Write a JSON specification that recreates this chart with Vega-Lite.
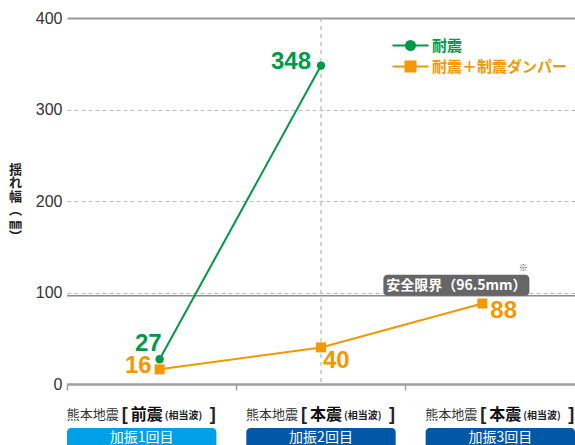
{
  "$schema": "https://vega.github.io/schema/vega-lite/v6.json",
  "width": 508,
  "height": 366,
  "autosize": {"type": "none"},
  "padding": {"left": 67, "top": 18, "right": 0, "bottom": 61},
  "background": "white",
  "config": {"view": {"stroke": null}, "font": "Noto Sans CJK JP"},
  "datasets": {
    "pts": [
      {"cat": "1", "series": "耐震", "value": 27},
      {"cat": "2", "series": "耐震", "value": 348},
      {"cat": "1", "series": "耐震＋制震ダンパー", "value": 16},
      {"cat": "2", "series": "耐震＋制震ダンパー", "value": 40},
      {"cat": "3", "series": "耐震＋制震ダンパー", "value": 88}
    ],
    "cats": [
      {"cat": "1", "place": "熊本地震", "quake": "前震", "wave": "(相当波)", "run": "加振1回目"},
      {"cat": "2", "place": "熊本地震", "quake": "本震", "wave": "(相当波)", "run": "加振2回目"},
      {"cat": "3", "place": "熊本地震", "quake": "本震", "wave": "(相当波)", "run": "加振3回目"}
    ],
    "limit": [{"label": "安全限界（96.5mm）", "value": 96.5}]
  },
  "layer": [
    {
      "data": {"values": [{}]},
      "mark": {"type": "rule", "color": "#aaaaaa", "strokeWidth": 1, "strokeDash": [4, 4]},
      "encoding": {
        "x": {
          "datum": "2", "type": "nominal",
          "scale": {"type": "band", "domain": ["1", "2", "3"], "paddingInner": 0, "paddingOuter": 0},
          "axis": {"orient": "bottom", "title": null, "labels": false, "grid": false, "domainColor": "#a0a0a0", "domainWidth": 2, "tickColor": "#a0a0a0", "tickWidth": 1.5, "tickSize": 6, "bandPosition": 0}
        }
      }
    },
    {
      "layer": [
        {
          "data": {"name": "limit"},
          "mark": {"type": "rule", "color": "#8a8a8a", "strokeWidth": 1.5},
          "encoding": {
            "y": {
              "field": "value", "type": "quantitative", "scale": {"domain": [0, 400], "nice": false},
              "axis": {
                "values": [0, 100, 200, 300, 400],
                "title": ["揺", "れ", "幅", "︵", "㎜", "︶"],
                "titleAngle": 0, "titleX": -52, "titleY": 151, "titleAlign": "center", "titleBaseline": "middle",
                "titleFont": "Noto Sans CJK JP", "titleFontSize": 13, "titleLineHeight": 13.5, "titleFontWeight": "bold", "titleColor": "#222222",
                "domain": false, "ticks": false, "labelPadding": 5,
                "labelFont": "Liberation Sans", "labelFontSize": 16, "labelColor": "#333333",
                "grid": true,
                "gridColor": {"condition": {"test": "datum.value === 400 || datum.value === 0", "value": "#999999"}, "value": "#bbbbbb"},
                "gridWidth": {"condition": {"test": "datum.value === 400 || datum.value === 0", "value": 2}, "value": 1},
                "gridDash": {"condition": {"test": "datum.value === 400 || datum.value === 0", "value": []}, "value": [4, 3]}
              }
            }
          }
        },
        {
          "data": {"name": "pts"},
          "transform": [{"filter": "datum.series === '耐震'"}],
          "mark": {"type": "line", "color": "#009944", "strokeWidth": 2},
          "encoding": {
            "x": {"field": "cat", "type": "nominal", "scale": {"type": "point", "domain": ["1", "2", "3"], "padding": 0.574}, "axis": null},
            "y": {"field": "value", "type": "quantitative", "scale": {"domain": [0, 400], "nice": false}}
          }
        },
        {
          "data": {"name": "pts"},
          "transform": [{"filter": "datum.series === '耐震＋制震ダンパー'"}],
          "mark": {"type": "line", "color": "#f39800", "strokeWidth": 2},
          "encoding": {
            "x": {"field": "cat", "type": "nominal", "scale": {"type": "point", "domain": ["1", "2", "3"], "padding": 0.574}, "axis": null},
            "y": {"field": "value", "type": "quantitative", "scale": {"domain": [0, 400], "nice": false}}
          }
        },
        {
          "data": {"name": "pts"},
          "transform": [{"filter": "datum.series === '耐震'"}],
          "mark": {"type": "point", "filled": true, "shape": "circle", "size": 70, "color": "#009944", "opacity": 1},
          "encoding": {
            "x": {"field": "cat", "type": "nominal", "scale": {"type": "point", "domain": ["1", "2", "3"], "padding": 0.574}, "axis": null},
            "y": {"field": "value", "type": "quantitative", "scale": {"domain": [0, 400], "nice": false}}
          }
        },
        {
          "data": {"name": "pts"},
          "transform": [{"filter": "datum.series === '耐震＋制震ダンパー'"}],
          "mark": {"type": "point", "filled": true, "shape": "square", "size": 100, "color": "#f39800", "opacity": 1},
          "encoding": {
            "x": {"field": "cat", "type": "nominal", "scale": {"type": "point", "domain": ["1", "2", "3"], "padding": 0.574}, "axis": null},
            "y": {"field": "value", "type": "quantitative", "scale": {"domain": [0, 400], "nice": false}}
          }
        },
        {
          "data": {"name": "pts"},
          "mark": {"type": "point", "filled": true, "opacity": 0},
          "encoding": {
            "x": {"field": "cat", "type": "nominal", "scale": {"type": "point", "domain": ["1", "2", "3"], "padding": 0.574}, "axis": null},
            "y": {"field": "value", "type": "quantitative", "scale": {"domain": [0, 400], "nice": false}},
            "color": {
              "field": "series", "type": "nominal",
              "scale": {"domain": ["耐震", "耐震＋制震ダンパー"], "range": ["#009944", "#f39800"]},
              "legend": {
                "orient": "none", "legendX": 336, "legendY": 20, "title": null, "padding": 0,
                "symbolSize": 100, "symbolStrokeWidth": 2, "symbolOpacity": 1,
                "labelFont": "Noto Sans CJK JP", "labelFontSize": 15, "labelFontWeight": "bold", "labelOffset": 14, "labelLimit": 300,
                "rowPadding": 3,
                "encode": {
                  "symbols": {"update": {
                    "fill": {"signal": "datum.value === '耐震' ? '#009944' : '#f39800'"},
                    "stroke": {"signal": "datum.value === '耐震' ? '#009944' : '#f39800'"},
                    "opacity": {"value": 1}
                  }},
                  "labels": {"update": {"fill": {"signal": "datum.value === '耐震' ? '#009944' : '#f39800'"}}}
                }
              }
            },
            "shape": {
              "field": "series", "type": "nominal",
              "scale": {"domain": ["耐震", "耐震＋制震ダンパー"], "range": ["M-3.6,0H3.6M0.9,0A0.9,0.9,0,1,1,-0.9,0A0.9,0.9,0,1,1,0.9,0Z", "M-3.6,0H3.6M-1,-1H1V1H-1Z"]},
              "legend": {
                "orient": "none", "legendX": 336, "legendY": 20, "title": null, "padding": 0,
                "symbolSize": 100, "symbolStrokeWidth": 2, "symbolOpacity": 1,
                "labelFont": "Noto Sans CJK JP", "labelFontSize": 15, "labelFontWeight": "bold", "labelOffset": 14, "labelLimit": 300,
                "rowPadding": 3
              }
            }
          }
        },
        {
          "data": {"name": "pts"},
          "transform": [{"filter": "datum.series === '耐震' && datum.cat === '2'"}],
          "mark": {"type": "text", "font": "Liberation Sans", "fontSize": 24, "fontWeight": "bold", "color": "#009944", "align": "right", "baseline": "middle", "dx": -10, "dy": -4},
          "encoding": {
            "x": {"field": "cat", "type": "nominal", "scale": {"type": "point", "domain": ["1", "2", "3"], "padding": 0.574}, "axis": null},
            "y": {"field": "value", "type": "quantitative", "scale": {"domain": [0, 400], "nice": false}},
            "text": {"field": "value", "type": "quantitative"}
          }
        },
        {
          "data": {"name": "pts"},
          "transform": [{"filter": "datum.series === '耐震' && datum.cat === '1'"}],
          "mark": {"type": "text", "font": "Liberation Sans", "fontSize": 24, "fontWeight": "bold", "color": "#009944", "align": "right", "baseline": "middle", "dx": 2, "dy": -15},
          "encoding": {
            "x": {"field": "cat", "type": "nominal", "scale": {"type": "point", "domain": ["1", "2", "3"], "padding": 0.574}, "axis": null},
            "y": {"field": "value", "type": "quantitative", "scale": {"domain": [0, 400], "nice": false}},
            "text": {"field": "value", "type": "quantitative"}
          }
        },
        {
          "data": {"name": "pts"},
          "transform": [{"filter": "datum.series === '耐震＋制震ダンパー' && datum.cat === '1'"}],
          "mark": {"type": "text", "font": "Liberation Sans", "fontSize": 24, "fontWeight": "bold", "color": "#f39800", "align": "right", "baseline": "middle", "dx": -8, "dy": -3},
          "encoding": {
            "x": {"field": "cat", "type": "nominal", "scale": {"type": "point", "domain": ["1", "2", "3"], "padding": 0.574}, "axis": null},
            "y": {"field": "value", "type": "quantitative", "scale": {"domain": [0, 400], "nice": false}},
            "text": {"field": "value", "type": "quantitative"}
          }
        },
        {
          "data": {"name": "pts"},
          "transform": [{"filter": "datum.series === '耐震＋制震ダンパー' && datum.cat === '2'"}],
          "mark": {"type": "text", "font": "Liberation Sans", "fontSize": 24, "fontWeight": "bold", "color": "#f39800", "align": "left", "baseline": "middle", "dx": 2, "dy": 14},
          "encoding": {
            "x": {"field": "cat", "type": "nominal", "scale": {"type": "point", "domain": ["1", "2", "3"], "padding": 0.574}, "axis": null},
            "y": {"field": "value", "type": "quantitative", "scale": {"domain": [0, 400], "nice": false}},
            "text": {"field": "value", "type": "quantitative"}
          }
        },
        {
          "data": {"name": "pts"},
          "transform": [{"filter": "datum.series === '耐震＋制震ダンパー' && datum.cat === '3'"}],
          "mark": {"type": "text", "font": "Liberation Sans", "fontSize": 24, "fontWeight": "bold", "color": "#f39800", "align": "left", "baseline": "middle", "dx": 8, "dy": 8},
          "encoding": {
            "x": {"field": "cat", "type": "nominal", "scale": {"type": "point", "domain": ["1", "2", "3"], "padding": 0.574}, "axis": null},
            "y": {"field": "value", "type": "quantitative", "scale": {"domain": [0, 400], "nice": false}},
            "text": {"field": "value", "type": "quantitative"}
          }
        },
        {
          "data": {"name": "limit"},
          "mark": {"type": "rect", "color": "#666666", "cornerRadius": 4, "xOffset": -99, "x2Offset": 47, "y2Offset": -21},
          "encoding": {
            "x": {"datum": "3", "type": "nominal", "scale": {"type": "point", "domain": ["1", "2", "3"], "padding": 0.574}, "axis": null},
            "x2": {"datum": "3"},
            "y": {"field": "value", "type": "quantitative", "scale": {"domain": [0, 400], "nice": false}},
            "y2": {"field": "value"}
          }
        },
        {
          "data": {"name": "limit"},
          "mark": {"type": "text", "color": "white", "font": "Noto Sans CJK JP", "fontSize": 14, "fontWeight": "bold", "align": "center", "baseline": "middle", "dx": -26, "dy": -10},
          "encoding": {
            "x": {"datum": "3", "type": "nominal", "scale": {"type": "point", "domain": ["1", "2", "3"], "padding": 0.574}, "axis": null},
            "y": {"field": "value", "type": "quantitative", "scale": {"domain": [0, 400], "nice": false}},
            "text": {"field": "label"}
          }
        },
        {
          "data": {"name": "limit"},
          "mark": {"type": "text", "text": "※", "color": "#555555", "font": "Noto Sans CJK JP", "fontSize": 9, "align": "center", "baseline": "middle", "dx": 41, "dy": -28},
          "encoding": {
            "x": {"datum": "3", "type": "nominal", "scale": {"type": "point", "domain": ["1", "2", "3"], "padding": 0.574}, "axis": null},
            "y": {"field": "value", "type": "quantitative", "scale": {"domain": [0, 400], "nice": false}}
          }
        }
      ]
    },
    {
      "data": {"name": "cats"},
      "layer": [
        {
          "mark": {"type": "rect", "cornerRadius": 4},
          "encoding": {
            "x": {"field": "cat", "type": "nominal", "scale": {"type": "band", "domain": ["1", "2", "3"], "paddingInner": 0.167, "paddingOuter": 0}, "axis": null},
            "y": {"datum": -48, "type": "quantitative", "scale": {"domain": [0, 400], "nice": false}},
            "y2": {"datum": -72},
            "color": {"condition": {"test": "datum.cat === '1'", "value": "#00a0e9"}, "value": "#0058a6"}
          }
        },
        {
          "mark": {"type": "text", "color": "white", "font": "Noto Sans CJK JP", "fontSize": 14, "align": "center", "baseline": "middle"},
          "encoding": {
            "x": {"field": "cat", "type": "nominal", "scale": {"type": "band", "domain": ["1", "2", "3"], "paddingInner": 0.167, "paddingOuter": 0}, "axis": null},
            "y": {"datum": -59, "type": "quantitative", "scale": {"domain": [0, 400], "nice": false}},
            "text": {"field": "run"}
          }
        },
        {
          "mark": {"type": "text", "color": "#333333", "font": "Noto Sans CJK JP", "fontSize": 13, "align": "left", "baseline": "middle", "dx": -75},
          "encoding": {
            "x": {"field": "cat", "type": "nominal", "scale": {"type": "band", "domain": ["1", "2", "3"], "paddingInner": 0.167, "paddingOuter": 0}, "axis": null},
            "y": {"datum": -34, "type": "quantitative", "scale": {"domain": [0, 400], "nice": false}},
            "text": {"field": "place"}
          }
        },
        {
          "mark": {"type": "text", "text": "[", "color": "#222222", "font": "Liberation Sans", "fontSize": 18, "fontWeight": "bold", "align": "left", "baseline": "middle", "dx": -20, "dy": 0},
          "encoding": {
            "x": {"field": "cat", "type": "nominal", "scale": {"type": "band", "domain": ["1", "2", "3"], "paddingInner": 0.167, "paddingOuter": 0}, "axis": null},
            "y": {"datum": -34, "type": "quantitative", "scale": {"domain": [0, 400], "nice": false}}
          }
        },
        {
          "mark": {"type": "text", "color": "#111111", "font": "Noto Sans CJK JP", "fontSize": 16, "fontWeight": "bold", "align": "left", "baseline": "middle", "dx": -11},
          "encoding": {
            "x": {"field": "cat", "type": "nominal", "scale": {"type": "band", "domain": ["1", "2", "3"], "paddingInner": 0.167, "paddingOuter": 0}, "axis": null},
            "y": {"datum": -34, "type": "quantitative", "scale": {"domain": [0, 400], "nice": false}},
            "text": {"field": "quake"}
          }
        },
        {
          "mark": {"type": "text", "color": "#222222", "font": "Noto Sans CJK JP", "fontSize": 10, "fontWeight": "bold", "align": "left", "baseline": "middle", "dx": 23, "dy": 1},
          "encoding": {
            "x": {"field": "cat", "type": "nominal", "scale": {"type": "band", "domain": ["1", "2", "3"], "paddingInner": 0.167, "paddingOuter": 0}, "axis": null},
            "y": {"datum": -34, "type": "quantitative", "scale": {"domain": [0, 400], "nice": false}},
            "text": {"field": "wave"}
          }
        },
        {
          "mark": {"type": "text", "text": "]", "color": "#222222", "font": "Liberation Sans", "fontSize": 18, "fontWeight": "bold", "align": "left", "baseline": "middle", "dx": 68, "dy": 0},
          "encoding": {
            "x": {"field": "cat", "type": "nominal", "scale": {"type": "band", "domain": ["1", "2", "3"], "paddingInner": 0.167, "paddingOuter": 0}, "axis": null},
            "y": {"datum": -34, "type": "quantitative", "scale": {"domain": [0, 400], "nice": false}}
          }
        }
      ]
    }
  ],
  "resolve": {"scale": {"x": "independent"}, "axis": {"x": "independent"}}
}
